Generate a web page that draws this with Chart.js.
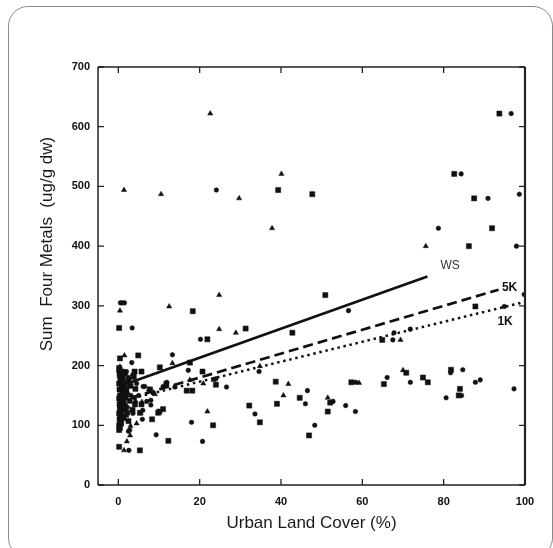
<!DOCTYPE html>
<html><head><meta charset="utf-8">
<script src="https://cdn.jsdelivr.net/npm/chart.js@4.4.0/dist/chart.umd.min.js"></script>
<style>
html,body{margin:0;padding:0;background:#fff;overflow:hidden;}
#wrap{position:relative;width:553px;height:548px;overflow:hidden;background:#fff;}
#frame{position:absolute;left:8px;top:6px;width:545px;height:552px;border:1px solid #8a8a8a;border-radius:20px;box-sizing:border-box;}
canvas{position:absolute;left:0;top:0;}
</style></head><body>
<div id="wrap"><div id="frame"></div><canvas id="c" width="553" height="548"></canvas></div>
<script>
const X_TICKS = [0, 20, 40, 60, 80, 100];
const Y_TICKS = [0, 100, 200, 300, 400, 500, 600, 700];
const X_TITLE = 'Urban Land Cover (%)';
const Y_TITLE = 'Sum  Four Metals  (ug/g dw)';

const TRI_X = [22.6,1.4,10.5,29.7,40.1,37.8,75.6,24.8,12.5,0.4,24.8,28.9,69.4,1.5,13.3,70.0,41.8,40.6,21.9,51.5,2.9,2.1,1.4,20.9,5.8,4.5,59.2,0.4,23.4,17.6,34.8,
  0.3,1.0,1.7,2.3,0.6,1.2,3.5,4.2,2.0,3.0,5.5,7.5,9.0,1.8,0.8];
const TRI_Y = [622,494,487,480,521,430,400,318,299,292,261,255,243,217,204,192,169,150,123,146,83,73,58,170,139,103,171,198,176,176,199,
  182,176,168,155,146,136,186,141,116,99,120,160,152,188,124];

const SQ_X = [93.7,82.6,39.3,47.7,87.5,91.9,86.2,50.9,18.3,87.8,0.2,31.3,21.9,42.8,64.9,4.9,0.4,20.7,10.2,38.7,70.8,74.9,76.1,81.8,
  65.3,84.0,83.7,57.3,16.8,18.2,24.0,44.6,52.1,39.0,32.2,51.5,23.3,34.8,46.9,12.3,5.3,0.2,11.0,8.3,9.8,5.7,4.0,0.2,11.8,17.6,4.1,5.7,5.3,10.1,2.5,7.8,
  0.2,0.3,0.5,0.2,0.8,0.3,1.0,0.4,0.2,0.6,0.3,1.2,0.4,0.2,0.7,0.3,0.5,0.2,0.4,1.5,2.0,1.8,2.5,3.0,2.2,3.5,1.6,2.8,4.2,3.8,0.9,1.3,1.1,1.4,0.9,1.9,0.7,1.0,0.5,1.6];
const SQ_Y = [622,521,494,487,480,430,400,318,291,299,263,262,244,255,243,217,212,190,197,173,188,180,172,193,
  169,161,150,172,158,158,168,146,138,136,133,123,100,105,83,74,58,64,127,110,121,190,190,92,169,205,135,135,121,123,107,160,
  196,186,176,170,165,160,155,150,145,140,135,130,125,120,115,110,105,100,96,171,161,146,176,166,121,126,186,141,161,181,130,112,180,160,190,152,103,143,118,133];

const CIR_X = [96.6,84.3,24.1,98.6,90.9,78.7,97.9,99.8,56.6,94.9,3.4,0.5,1.0,1.5,20.2,67.8,67.5,71.8,13.3,3.3,17.2,66.1,71.8,84.7,89.0,87.8,97.3,80.6,46.5,46.0,55.9,58.3,34.6,26.6,33.6,48.3,18.0,20.7,9.3,2.6,8.0,8.0,5.9,2.8,58.4,81.7,84.4,52.8,24.0,13.9,11.0,11.9,2.5,6.1,8.6,
  0.1,0.6,1.1,0.4,0.9,1.4,0.3,0.8,1.3,0.5,2.0,2.6,3.1,3.6,4.0,2.2,1.7,4.5,5.0,6.5,6.0,7.0];
const CIR_Y = [622,521,494,487,480,430,400,319,292,299,263,305,305,305,244,255,243,261,218,205,192,180,172,193,176,172,161,146,158,136,133,123,190,164,119,100,105,73,84,58,142,134,110,92,172,188,150,140,178,164,165,172,90,165,154,
  190,180,170,160,150,140,130,120,115,110,190,180,150,120,146,130,125,170,150,165,125,140];

const WS_X = [1, 76],   WS_Y = [167, 349];
const K5_X = [3, 93.5], K5_Y = [146, 327];
const K1_X = [5, 99],   K1_Y = [148, 305];
const LINE_LABELS = ['WS', '5K', '1K'];

const pts = (xs, ys) => xs.map((x, i) => ({x, y: ys[i]}));
const FONT = '"Liberation Sans", Arial, Helvetica, sans-serif';
const INK = '#111';

const deco = {
  id: 'deco',
  afterDraw(chart) {
    const {ctx, chartArea: a, scales: {x, y}} = chart;
    ctx.save();
    ctx.strokeStyle = '#222';
    ctx.lineWidth = 1.5;
    ctx.beginPath();
    ctx.moveTo(a.left, a.top); ctx.lineTo(a.right, a.top);
    ctx.moveTo(a.left, a.top); ctx.lineTo(a.left, a.bottom);
    ctx.moveTo(a.left, a.bottom); ctx.lineTo(a.right, a.bottom);
    ctx.stroke();
    ctx.lineWidth = 2.2;
    ctx.beginPath(); ctx.moveTo(a.right, a.top); ctx.lineTo(a.right, a.bottom); ctx.stroke();
    ctx.lineWidth = 1.3;
    ctx.beginPath();
    X_TICKS.forEach(v => {
      const p = x.getPixelForValue(v);
      ctx.moveTo(p, a.bottom); ctx.lineTo(p, a.bottom - 6);
      ctx.moveTo(p, a.top); ctx.lineTo(p, a.top + 6);
    });
    Y_TICKS.forEach(v => {
      const p = y.getPixelForValue(v);
      ctx.moveTo(a.left, p); ctx.lineTo(a.left + 6, p);
      ctx.moveTo(a.right, p); ctx.lineTo(a.right - 6, p);
    });
    ctx.stroke();
    ctx.fillStyle = '#1a1a1a';
    ctx.font = '17px ' + FONT;
    ctx.textAlign = 'center';
    ctx.textBaseline = 'middle';
    ctx.fillText(X_TITLE, (a.left + a.right) / 2, 523);
    ctx.save();
    ctx.translate(47, 244);
    ctx.rotate(-Math.PI / 2);
    ctx.fillText(Y_TITLE, 0, 0);
    ctx.restore();
    const lab = [[LINE_LABELS[0], 81.6, 367, 'normal', '#333'], [LINE_LABELS[1], 96.2, 331, 'bold', INK], [LINE_LABELS[2], 95.1, 274, 'bold', INK]];
    lab.forEach(([t, vx, vy, w, c]) => {
      ctx.font = w + ' 12px ' + FONT;
      ctx.fillStyle = c;
      ctx.fillText(t, x.getPixelForValue(vx), y.getPixelForValue(vy));
    });
    ctx.restore();
  }
};

new Chart(document.getElementById('c'), {
  type: 'scatter',
  data: {
    datasets: [
      {data: pts(WS_X, WS_Y), showLine: true, borderColor: INK, borderWidth: 2.7, pointRadius: 0, fill: false},
      {data: pts(K5_X, K5_Y), showLine: true, borderColor: INK, borderWidth: 2.7, borderDash: [10, 5], pointRadius: 0, fill: false},
      {data: pts(K1_X, K1_Y), showLine: true, borderColor: INK, borderWidth: 2.5, borderDash: [2.5, 3.7], pointRadius: 0, fill: false},
      {data: pts(TRI_X, TRI_Y), pointStyle: 'triangle', pointRadius: 3, backgroundColor: INK, borderColor: INK, borderWidth: 0.5},
      {data: pts(SQ_X, SQ_Y), pointStyle: 'rect', pointRadius: 3.6, backgroundColor: INK, borderColor: INK, borderWidth: 0.5},
      {data: pts(CIR_X, CIR_Y), pointStyle: 'circle', pointRadius: 2.3, backgroundColor: INK, borderColor: INK, borderWidth: 0.5}
    ]
  },
  options: {
    responsive: false,
    animation: false,
    events: [],
    layout: {padding: {top: 67, right: 28, left: 0, bottom: 0}},
    plugins: {legend: {display: false}, tooltip: {enabled: false}},
    scales: {
      x: {
        type: 'linear', min: -5, max: 100,
        afterBuildTicks: s => { s.ticks = X_TICKS.map(v => ({value: v})); },
        afterFit: s => { s.height = 63; },
        grid: {display: false, drawTicks: false},
        border: {display: false},
        ticks: {padding: 10, autoSkip: false, maxRotation: 0, color: INK, font: {family: FONT, size: 11, weight: 'bold'}}
      },
      y: {
        type: 'linear', min: 0, max: 700,
        afterBuildTicks: s => { s.ticks = Y_TICKS.map(v => ({value: v})); },
        afterFit: s => { s.width = 98; },
        grid: {display: false, drawTicks: false},
        border: {display: false},
        ticks: {padding: 8, color: INK, font: {family: FONT, size: 11, weight: 'bold'}}
      }
    }
  },
  plugins: [deco]
});
</script>
</body></html>
